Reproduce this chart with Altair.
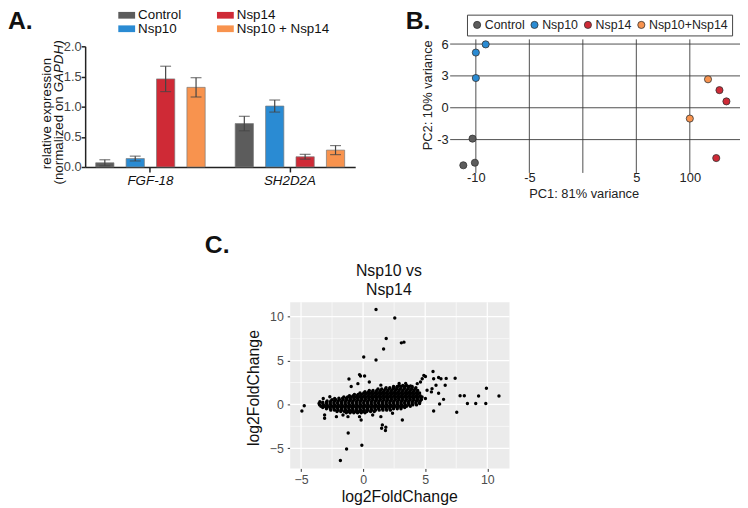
import altair as alt
import pandas as pd

FONT = "Liberation Sans"

# ---------------- Panel A data ----------------
genes = ["FGF-18", "SH2D2A"]
conditions = ["Control", "Nsp10", "Nsp14", "Nsp10 + Nsp14"]
fgf18_mean = [0.07, 0.14, 1.46, 1.32]
fgf18_err = [0.05, 0.04, 0.21, 0.16]
sh2d2a_mean = [0.72, 1.01, 0.17, 0.28]
sh2d2a_err = [0.12, 0.10, 0.04, 0.075]
bar_colors = ["#5c5c5c", "#2a8bd3", "#cf2a36", "#f8934e"]
a_yticks = [0, 0.5, 1.0, 1.5, 2.0]

# ---------------- Panel B data ----------------
pca_groups = ["Control", "Nsp10", "Nsp14", "Nsp10+Nsp14"]
pca_group = ["Control", "Control", "Control", "Nsp10", "Nsp10", "Nsp10",
             "Nsp14", "Nsp14", "Nsp14", "Nsp10+Nsp14", "Nsp10+Nsp14"]
pc1 = [-11.17, -10.09, -10.31, -10.0, -10.0, -9.08, 12.77, 13.42, 12.47, 11.70, 10.0]
pc2 = [-5.42, -5.18, -2.91, 2.80, 5.20, 5.97, 1.66, 0.60, -4.74, 2.68, -1.02]
b_xticks = [-10, -5, 0, 5, 10]
b_yticks = [6, 3, 0, -3]

# ---------------- Panel C data ----------------
c_major = [-5, 0, 5, 10]
c_minor_x = [-2.5, 2.5, 7.5]
c_minor_y = [-2.5, 2.5, 7.5]
# dense central cloud, row by row (y value, x values read along the row)
ma_blob_rows_y = [-0.95, -0.80, -0.65, -0.50, -0.35, -0.20, -0.05, 0.10, 0.25, 0.40, 0.55,
                  0.70, 0.85, 1.00, 1.15, 1.30, 1.45, 1.60, 1.75, 1.90, 2.05, 2.15]
ma_blob_rows_x = [
    [-1.35, -1.05, -0.75, -0.45, -0.15, 0.15],
    [-2.1, -1.8, -1.5, -1.2, -0.9, -0.6, -0.3, 0.0, 0.3, 0.6, 0.9],
    [-2.6, -2.3, -2.0, -1.7, -1.4, -1.1, -0.8, -0.5, -0.2, 0.1, 0.4, 0.7, 1.0, 1.3, 1.6,
     1.9, 2.2],
    [-2.95, -2.65, -2.35, -2.05, -1.75, -1.45, -1.15, -0.85, -0.55, -0.25, 0.05, 0.35,
     0.65, 0.95, 1.25, 1.55, 1.85, 2.15, 2.45, 2.75, 3.05],
    [-3.25, -2.95, -2.65, -2.35, -2.05, -1.75, -1.45, -1.15, -0.85, -0.55, -0.25, 0.05,
     0.35, 0.65, 0.95, 1.25, 1.55, 1.85, 2.15, 2.45, 2.75, 3.05, 3.35],
    [-3.4, -3.1, -2.8, -2.5, -2.2, -1.9, -1.6, -1.3, -1.0, -0.7, -0.4, -0.1, 0.2, 0.5,
     0.8, 1.1, 1.4, 1.7, 2.0, 2.3, 2.6, 2.9, 3.2, 3.5, 3.8],
    [-3.5, -3.2, -2.9, -2.6, -2.3, -2.0, -1.7, -1.4, -1.1, -0.8, -0.5, -0.2, 0.1, 0.4, 0.7,
     1.0, 1.3, 1.6, 1.9, 2.2, 2.5, 2.8, 3.1, 3.4, 3.7, 4.0, 4.3],
    [-3.55, -3.25, -2.95, -2.65, -2.35, -2.05, -1.75, -1.45, -1.15, -0.85, -0.55, -0.25,
     0.05, 0.35, 0.65, 0.95, 1.25, 1.55, 1.85, 2.15, 2.45, 2.75, 3.05, 3.35, 3.65, 3.95,
     4.25, 4.55],
    [-3.25, -2.95, -2.65, -2.35, -2.05, -1.75, -1.45, -1.15, -0.85, -0.55, -0.25, 0.05,
     0.35, 0.65, 0.95, 1.25, 1.55, 1.85, 2.15, 2.45, 2.75, 3.05, 3.35, 3.65, 3.95, 4.25,
     4.55],
    [-2.9, -2.6, -2.3, -2.0, -1.7, -1.4, -1.1, -0.8, -0.5, -0.2, 0.1, 0.4, 0.7, 1.0, 1.3,
     1.6, 1.9, 2.2, 2.5, 2.8, 3.1, 3.4, 3.7, 4.0, 4.3, 4.6],
    [-2.5, -2.2, -1.9, -1.6, -1.3, -1.0, -0.7, -0.4, -0.1, 0.2, 0.5, 0.8, 1.1, 1.4, 1.7,
     2.0, 2.3, 2.6, 2.9, 3.2, 3.5, 3.8, 4.1, 4.4, 4.7],
    [-1.95, -1.65, -1.35, -1.05, -0.75, -0.45, -0.15, 0.15, 0.45, 0.75, 1.05, 1.35, 1.65,
     1.95, 2.25, 2.55, 2.85, 3.15, 3.45, 3.75, 4.05, 4.35, 4.65],
    [-1.55, -1.25, -0.95, -0.65, -0.35, -0.05, 0.25, 0.55, 0.85, 1.15, 1.45, 1.75, 2.05,
     2.35, 2.65, 2.95, 3.25, 3.55, 3.85, 4.15, 4.45, 4.75],
    [-1.1, -0.8, -0.5, -0.2, 0.1, 0.4, 0.7, 1.0, 1.3, 1.6, 1.9, 2.2, 2.5, 2.8, 3.1, 3.4,
     3.7, 4.0, 4.3, 4.6],
    [-0.7, -0.4, -0.1, 0.2, 0.5, 0.8, 1.1, 1.4, 1.7, 2.0, 2.3, 2.6, 2.9, 3.2, 3.5, 3.8,
     4.1, 4.4],
    [-0.25, 0.05, 0.35, 0.65, 0.95, 1.25, 1.55, 1.85, 2.15, 2.45, 2.75, 3.05, 3.35, 3.65,
     3.95, 4.25, 4.55],
    [0.15, 0.45, 0.75, 1.05, 1.35, 1.65, 1.95, 2.25, 2.55, 2.85, 3.15, 3.45, 3.75, 4.05,
     4.35],
    [0.5, 0.8, 1.1, 1.4, 1.7, 2.0, 2.3, 2.6, 2.9, 3.2, 3.5, 3.8, 4.1, 4.4],
    [1.2, 1.5, 1.8, 2.1, 2.4, 2.7, 3.0, 3.3, 3.6, 3.9, 4.2],
    [1.85, 2.15, 2.45, 2.75, 3.05, 3.35, 3.65, 3.95, 4.25],
    [2.45, 2.75, 3.05, 3.35, 3.65, 3.95],
    [2.9, 3.2, 3.5],
]
# scattered genes outside the cloud
ma_out_x = [1.04, 2.55, 1.86, 1.65, 3.08, 3.29, 0.05, 1.04, -1.14, -0.29, -0.21, 0.12, 0.50,
            -0.42, -0.96, 1.43, 2.50, 2.90, 3.43, 3.82, 4.36,
            4.89, 5.02, 4.76, 4.62, 5.63, 5.68, 6.08, 6.27, 6.69, 7.41, 5.87, 6.61, 5.55, 5.50,
            6.08, 6.48, 6.16, 5.15, 5.02, 7.81, 8.15, 9.30, 9.93, 10.94, 8.40, 9.07, 9.88,
            5.68, 7.54,
            -4.93, -4.74, -3.10, -3.10, -3.48, -3.21, -2.68, -2.29,
            -2.15, -1.62, -1.22, -0.29, -0.16, 0.77, 1.43, 2.37, 3.16, -1.20, -0.10, -1.33,
            -1.83, 1.55, 1.49, 1.83, 1.80]
ma_out_y = [10.82, 9.85, 7.52, 6.31, 7.02, 7.10, 5.41, 5.07, 2.90, 3.40, 3.25, 3.25, 2.56,
            2.37, 2.05, 2.20, 1.95, 2.40, 2.40, 2.10, 2.37,
            3.31, 3.19, 2.93, 2.56, 3.75, 2.93, 3.06, 2.93, 2.97, 2.98, 2.18, 2.18, 1.80, 1.43,
            1.28, 0.58, 0.05, 1.61, 0.68, 1.00, 1.00, 0.96, 1.84, 0.96, 0.10, 0.10, 0.10,
            -0.75, -0.90,
            -0.75, -0.15, -1.20, -1.58, 0.30, 0.68, 0.87, 0.68,
            -1.39, -1.20, -1.39, -1.39, -1.77, -1.20, -1.39, -1.01, -1.77, -3.25, -4.66, -5.07,
            -6.39, -2.33, -2.71, -2.60, -2.97]

H = 500  # chart height (bottom axes are offset from it)

# =============== Panel A ===============
a_rows = []
for gene, means, errs in [(genes[0], fgf18_mean, fgf18_err), (genes[1], sh2d2a_mean, sh2d2a_err)]:
    for cond, m, e in zip(conditions, means, errs):
        a_rows.append(dict(gene=gene, cond=cond, mean=m, lo=m - e, hi=m + e))
dfa = pd.DataFrame(a_rows)

a_x_scale = alt.Scale(domain=genes, range=[78, 351], paddingInner=0.128, paddingOuter=0.032)
a_x_axis = alt.Axis(orient="bottom", offset=158 - H, title=None, labelFont=FONT, labelFontSize=13.5,
                    labelFontStyle="italic", labelColor="#111", labelPadding=2, labelAngle=0,
                    tickSize=5, tickColor="#222", tickWidth=1.5, domainColor="#222",
                    domainWidth=1.5, grid=False)
a_y_scale = alt.Scale(domain=[0, 2], range=[158, 36], nice=False, zero=True)
a_y_axis = alt.Axis(orient="left", offset=-78, title=None, values=a_yticks, format=".1f",
                    labelFont=FONT, labelFontSize=13, labelColor="#444", labelPadding=0,
                    tickSize=4, tickColor="#222", tickWidth=1.5, domainColor="#222",
                    domainWidth=1.5, grid=False)
a_xoff = alt.XOffset("cond:N", scale=alt.Scale(domain=conditions, paddingInner=0.4, paddingOuter=0.2))
a_x = alt.X("gene:N", scale=a_x_scale, axis=a_x_axis)

bars = alt.Chart(dfa).mark_bar(stroke="#7a7a7a", strokeWidth=0.7).encode(
    x=a_x, xOffset=a_xoff,
    y=alt.Y("mean:Q", scale=a_y_scale, axis=a_y_axis),
    color=alt.Color("cond:N", scale=alt.Scale(domain=conditions, range=bar_colors),
                    legend=alt.Legend(title=None, orient="none", legendX=113.25, legendY=-2.5,
                                      columns=2, symbolType="M-2,-0.8H2V0.8H-2Z",
                                      symbolSize=72.25, symbolStrokeWidth=0, labelFont=FONT,
                                      labelFontSize=13.5, labelColor="#111", labelOffset=4.75,
                                      columnPadding=35.75, rowPadding=-1, padding=0)),
)
err = alt.Chart(dfa).mark_rule(color="#444", strokeWidth=1.2).encode(
    x=a_x, xOffset=a_xoff,
    y=alt.Y("lo:Q", scale=a_y_scale, axis=a_y_axis), y2="hi:Q")
cap_hi = alt.Chart(dfa).mark_tick(color="#444", thickness=1.2, size=11).encode(
    x=a_x, xOffset=a_xoff, y=alt.Y("hi:Q", scale=a_y_scale, axis=a_y_axis))
cap_lo = alt.Chart(dfa).mark_tick(color="#444", thickness=1.2, size=11).encode(
    x=a_x, xOffset=a_xoff, y=alt.Y("lo:Q", scale=a_y_scale, axis=a_y_axis))
panel_a = alt.layer(bars, err, cap_hi, cap_lo)

# =============== Panel B ===============
dfb = pd.DataFrame(dict(grp=pca_group, pc1=pc1, pc2=pc2))
b_xdom = [-12.40, 14.69]
b_ydom = [-6.14, 6.44]
b_x_scale = alt.Scale(domain=b_xdom, range=[447, 740], nice=False, zero=False)
b_y_scale = alt.Scale(domain=b_ydom, range=[164, 29], nice=False, zero=False)
b_x_axis = alt.Axis(orient="bottom", offset=160 - H, values=b_xticks,
                    labelExpr="datum.value == 0 ? '' : datum.value == 10 ? '100' : datum.value < 0 ? '-' + (-datum.value) : '' + datum.value",
                    domain=False, ticks=False, tickSize=0, grid=False, labelPadding=3,
                    labelFont=FONT, labelFontSize=13, labelColor="#222",
                    title="PC1: 81% variance", titleFont=FONT, titleFontSize=13,
                    titleFontWeight="normal", titleColor="#222", titleX=582, titleY=25,
                    titleBaseline="middle", titleAlign="center")
b_y_axis = alt.Axis(orient="left", offset=-447, values=b_yticks,
                    labelExpr="datum.value < 0 ? '-' + (-datum.value) : '' + datum.value",
                    domain=False, ticks=False, tickSize=0, grid=False, labelPadding=2,
                    labelFont=FONT, labelFontSize=13, labelColor="#222",
                    title="PC2: 10% variance", titleFont=FONT, titleFontSize=13,
                    titleFontWeight="normal", titleColor="#222", titleX=-23.3, titleY=85,
                    titleBaseline="middle", titleAlign="center", titleAngle=270)

dfb_h = pd.DataFrame(dict(v=b_yticks, x1=[b_xdom[0]] * len(b_yticks), x2=[b_xdom[1]] * len(b_yticks)))
dfb_v = pd.DataFrame(dict(v=b_xticks, y1=[b_ydom[0]] * len(b_xticks), y2=[b_ydom[1]] * len(b_xticks)))
b_h = alt.Chart(dfb_h).mark_rule(color="#3a3a3a", strokeWidth=0.9).encode(
    x=alt.X("x1:Q", scale=b_x_scale, axis=b_x_axis), x2="x2:Q",
    y=alt.Y("v:Q", scale=b_y_scale, axis=b_y_axis))
b_v = alt.Chart(dfb_v).mark_rule(color="#3a3a3a", strokeWidth=0.9).encode(
    x=alt.X("v:Q", scale=b_x_scale, axis=b_x_axis),
    y=alt.Y("y1:Q", scale=b_y_scale, axis=b_y_axis), y2="y2:Q")
b_pts = alt.Chart(dfb).mark_circle(size=52, stroke="#333", strokeWidth=0.8, opacity=1).encode(
    x=alt.X("pc1:Q", scale=b_x_scale, axis=b_x_axis),
    y=alt.Y("pc2:Q", scale=b_y_scale, axis=b_y_axis),
    color=alt.Color("grp:N", scale=alt.Scale(domain=pca_groups, range=bar_colors),
                    legend=alt.Legend(title=None, orient="none", legendX=464, legendY=4,
                                      direction="horizontal", symbolType="circle", symbolSize=52,
                                      symbolStrokeColor="#333", symbolStrokeWidth=0.8,
                                      symbolOpacity=1, labelFont=FONT, labelFontSize=12.5,
                                      labelColor="#222", labelOffset=1.5, columnPadding=3,
                                      padding=4, strokeColor="#444")),
)
panel_b = alt.layer(b_h, b_v, b_pts)

# =============== Panel C ===============
blob_x, blob_y = [], []
for yv, xs in zip(ma_blob_rows_y, ma_blob_rows_x):
    blob_x.extend(xs)
    blob_y.extend([yv] * len(xs))
dfc = pd.DataFrame(dict(a=blob_x + ma_out_x, b=blob_y + ma_out_y))

c_xdom = [-5.87, 11.79]
c_ydom = [-7.29, 11.65]
c_x_scale = alt.Scale(domain=c_xdom, range=[285.3, 507], nice=False, zero=False)
c_y_scale = alt.Scale(domain=c_ydom, range=[462.7, 294.7], nice=False, zero=False)
c_x_axis = alt.Axis(orient="bottom", offset=462.7 - H, values=c_major, domain=False, ticks=True,
                    tickSize=3, tickColor="#333", tickWidth=1, labelFont=FONT, labelFontSize=12.5,
                    labelColor="#4d4d4d", labelPadding=2, grid=False,
                    title="log2FoldChange", titleFont=FONT, titleFontSize=16,
                    titleFontWeight="normal", titleColor="#111", titleX=395.5, titleY=33,
                    titleBaseline="alphabetic", titleAlign="center")
c_y_axis = alt.Axis(orient="left", offset=-285.3, values=c_major, domain=False, ticks=True,
                    tickSize=3, tickColor="#333", tickWidth=1, labelFont=FONT, labelFontSize=12.5,
                    labelColor="#4d4d4d", labelPadding=4, grid=False,
                    title="log2FoldChange", titleFont=FONT, titleFontSize=16,
                    titleFontWeight="normal", titleColor="#111", titleX=-36.6, titleY=381,
                    titleBaseline="middle", titleAlign="center", titleAngle=270)

dfc_bg = pd.DataFrame(dict(x1=[c_xdom[0]], x2=[c_xdom[1]], y1=[c_ydom[0]], y2=[c_ydom[1]]))
c_bg = alt.Chart(dfc_bg).mark_rect(color="#ebebeb").encode(
    x=alt.X("x1:Q", scale=c_x_scale, axis=c_x_axis), x2="x2:Q",
    y=alt.Y("y1:Q", scale=c_y_scale, axis=c_y_axis), y2="y2:Q")


def vlines(vals, width):
    d = pd.DataFrame(dict(v=vals, y1=[c_ydom[0]] * len(vals), y2=[c_ydom[1]] * len(vals)))
    return alt.Chart(d).mark_rule(color="white", strokeWidth=width).encode(
        x=alt.X("v:Q", scale=c_x_scale, axis=c_x_axis),
        y=alt.Y("y1:Q", scale=c_y_scale, axis=c_y_axis), y2="y2:Q")


def hlines(vals, width):
    d = pd.DataFrame(dict(v=vals, x1=[c_xdom[0]] * len(vals), x2=[c_xdom[1]] * len(vals)))
    return alt.Chart(d).mark_rule(color="white", strokeWidth=width).encode(
        x=alt.X("x1:Q", scale=c_x_scale, axis=c_x_axis), x2="x2:Q",
        y=alt.Y("v:Q", scale=c_y_scale, axis=c_y_axis))


c_pts = alt.Chart(dfc).mark_circle(size=12, color="black", opacity=1).encode(
    x=alt.X("a:Q", scale=c_x_scale, axis=c_x_axis),
    y=alt.Y("b:Q", scale=c_y_scale, axis=c_y_axis))
panel_c = alt.layer(c_bg, vlines(c_minor_x, 0.6), hlines(c_minor_y, 0.6),
                    vlines(c_major, 1.2), hlines(c_major, 1.2), c_pts)

# =============== Annotations ===============
one = pd.DataFrame({"k": [0]})


def label(txt, x, y, size, weight="normal", align="left", baseline="alphabetic",
          angle=0, style="normal"):
    return alt.Chart(one).mark_text(text=txt, font=FONT, fontSize=size, fontWeight=weight,
                                    fontStyle=style, align=align, baseline=baseline,
                                    angle=angle, color="#111").encode(
        x=alt.value(x), y=alt.value(y))


annotations = [
    label("A.", 0, 18, 25, weight="bold"),
    label("B.", 402, 18, 25, weight="bold"),
    label("C.", 199, 245, 25, weight="bold"),
    label("relative expression", 39, 104, 13.5, align="center", baseline="middle", angle=270),
    label("(normalized on", 52, 86.5, 13.5, align="right", baseline="middle", angle=270),
    label("GAPDH)", 52, 82.5, 13.5, align="left", baseline="middle", angle=270, style="italic"),
    label("Nsp10 vs", 385, 268.7, 16, align="center"),
    label("Nsp14", 385, 287, 16, align="center"),
]

chart = alt.layer(panel_a, panel_b, panel_c, *annotations).resolve_scale(
    x="independent", y="independent", color="independent"
).resolve_axis(x="independent", y="independent").resolve_legend(
    color="independent"
).properties(
    width=740, height=H, autosize=alt.AutoSizeParams(type="none"), padding=0,
    background="white"
).configure_view(strokeWidth=0)

chart.save("out.html", embed_options={"renderer": "svg", "actions": False})
